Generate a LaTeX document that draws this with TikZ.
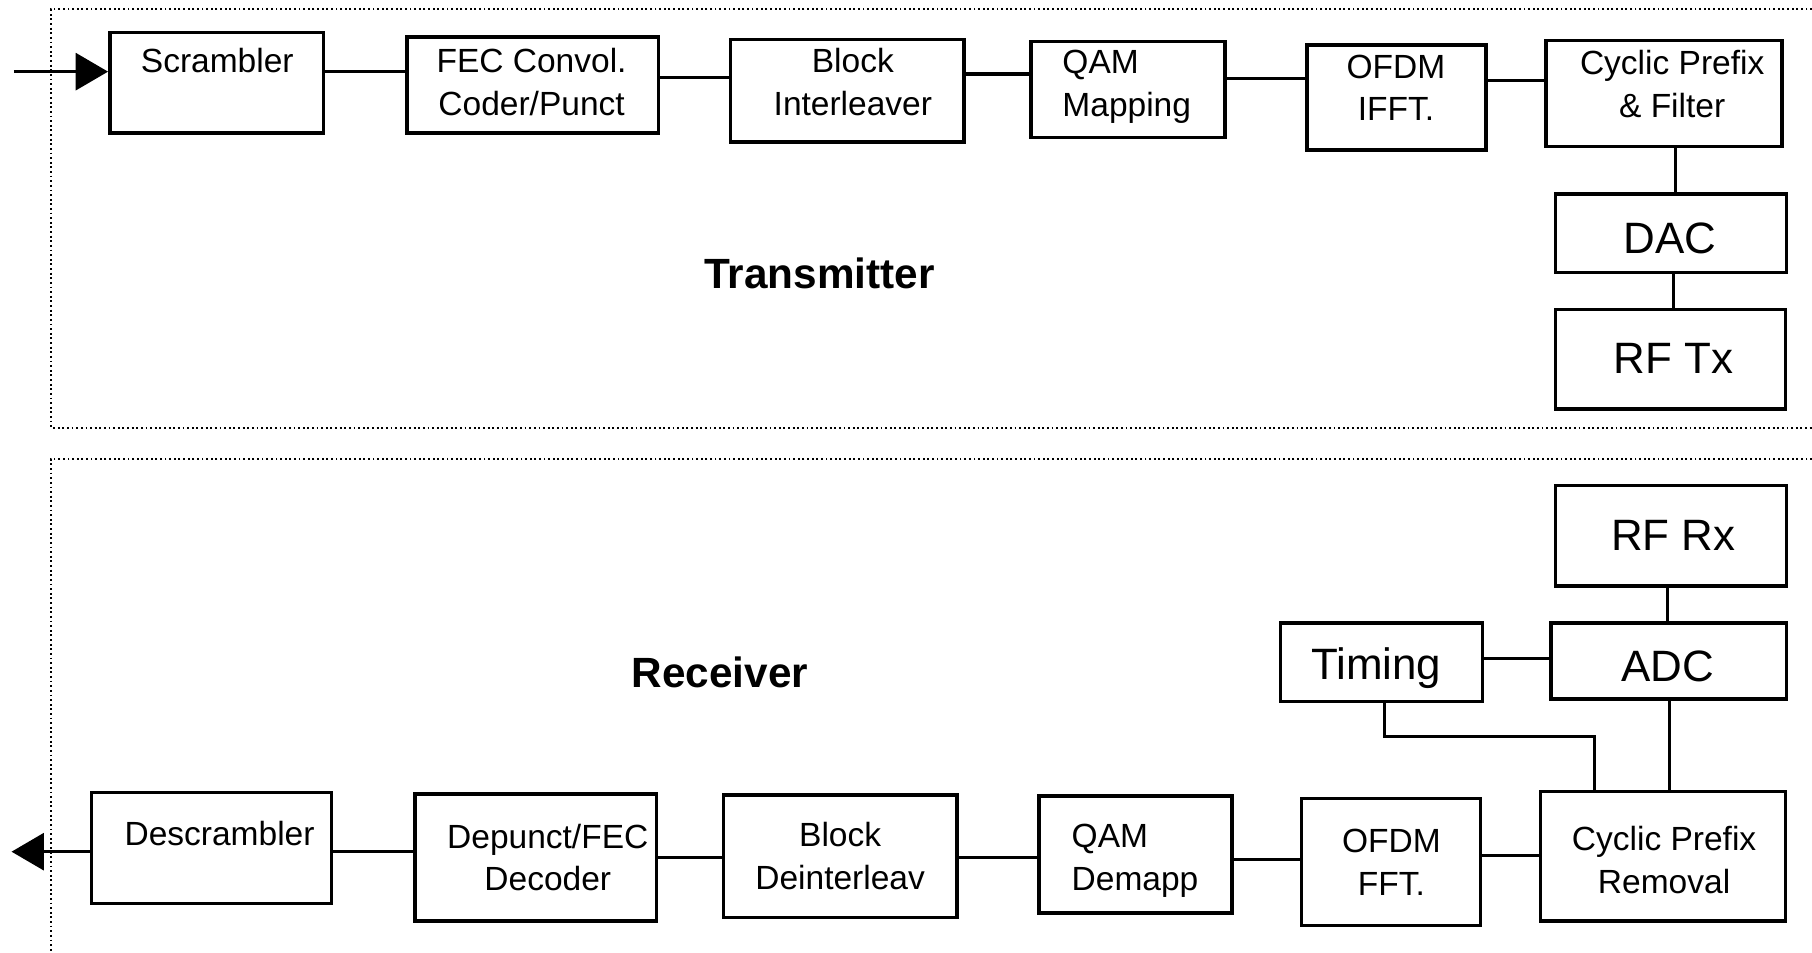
\documentclass[tikz,border=0pt]{standalone}
\usepackage{fontspec}
\setmainfont{Liberation Sans}
\usetikzlibrary{fit,arrows.meta}
\begin{document}
\begin{tikzpicture}[x=0.5pt,y=-0.5pt,
  box/.style={draw,line width=1.5pt,inner sep=0pt},
  txt/.style={inner sep=0pt,align=center,font=\fontsize{14.5pt}{18.5pt}\selectfont},
  txtl/.style={txt,align=left,anchor=west},
  big/.style={inner sep=0pt,font=\fontsize{19pt}{23pt}\selectfont},
  ttl/.style={inner sep=0pt,font=\fontsize{18.3pt}{22pt}\selectfont\bfseries},
  wire/.style={line width=1.35pt},
  frame/.style={line width=0.8pt,dash pattern=on 0.8pt off 1.2pt},
  arr/.style={wire,-{Triangle[length=14pt,width=16pt]}}]
\useasboundingbox (0,0) rectangle (1568,824);
% frames
\draw[frame] (1572,8) -- (44,8) -- (44,370) -- (1572,370);
\draw[frame] (1572,397) -- (44,397) -- (44,828);
% transmitter boxes
\node[box,fit={(95,28) (280,115)}] (scr) {};
\node[box,fit={(352,32) (570,115)}] (fec) {};
\node[box,fit={(632,34) (834,123)}] (bil) {};
\node[box,fit={(892,36) (1060,119)}] (qam) {};
\node[box,fit={(1131,39) (1286,130)}] (ifft) {};
\node[box,fit={(1338,35) (1542,127)}] (cpf) {};
\node[box,fit={(1346,168) (1546,236)}] (dac) {};
\node[box,fit={(1346,268) (1545,354)}] (rftx) {};
% receiver boxes
\node[box,fit={(1346,420) (1546,507)}] (rfrx) {};
\node[box,fit={(1342,539) (1546,605)}] (adc) {};
\node[box,fit={(1108,539) (1283,607)}] (tim) {};
\node[box,fit={(1333,685) (1545,797)}] (cpr) {};
\node[box,fit={(1126,691) (1281,801)}] (fft) {};
\node[box,fit={(899,689) (1066,790)}] (qamd) {};
\node[box,fit={(626,688) (828,794)}] (bdi) {};
\node[box,fit={(359,687) (568,797)}] (dep) {};
\node[box,fit={(79,686) (287,782)}] (desc) {};
% texts
\node[txt] (scrt) at (188,52) {Scrambler};
\node[txt] (fect) at (460,71) {FEC Convol.\\Coder/Punct};
\node[txt] (bilt) at (738,71) {Block\\Interleaver};
\node[txtl] (qamt) at (919,75) {QAM\\Mapping};
\node[txt] (ifftt) at (1208,76) {OFDM\\IFFT.};
\node[txt] (cpft) at (1447,73) {Cyclic Prefix\\\& Filter};
\node[big] (dact) at (1445,206) {DAC};
\node[big] (rftxt) at (1448,310) {RF Tx};
\node[big] (rfrxt) at (1448,463) {RF Rx};
\node[big] (adct) at (1443,577) {ADC};
\node[big] (timt) at (1191,578) {Timing};
\node[txt] (cprt) at (1440,744) {Cyclic Prefix\\Removal};
\node[txt] (fftt) at (1204,746) {OFDM\\FFT.};
\node[txtl] (qamdt) at (927,745) {QAM\\Demapp};
\node[txt] (bdit) at (727,741) {Block\\Deinterleav};
\node[txt] (dept) at (474,742) {Depunct/FEC\\Decoder};
\node[txt] (desct) at (190,721) {Descrambler};
\node[ttl] (tx) at (709,237) {Transmitter};
\node[ttl] (rx) at (623,582) {Receiver};
% connectors transmitter
\coordinate (in) at (12,62);
\coordinate (out) at (10,737);
\draw[arr] (in) -- (scr.west |- in);
\draw[wire] (scr.east |- 0,62) -- (fec.west |- 0,62);
\draw[wire] (fec.east |- 0,67) -- (bil.west |- 0,67);
\draw[wire] (bil.east |- 0,64) -- (qam.west |- 0,64);
\draw[wire] (qam.east |- 0,68) -- (ifft.west |- 0,68);
\draw[wire] (ifft.east |- 0,70) -- (cpf.west |- 0,70);
\draw[wire] (cpf.south -| 1450,0) -- (dac.north -| 1450,0);
\draw[wire] (dac.south -| 1448,0) -- (rftx.north -| 1448,0);
% connectors receiver
\draw[wire] (rfrx.south -| 1443,0) -- (adc.north -| 1443,0);
\draw[wire] (tim.east |- 0,570) -- (adc.west |- 0,570);
\draw[wire] (adc.south -| 1445,0) -- (cpr.north -| 1445,0);
\draw[wire] (tim.south -| 1198,0) -- (1198,637) -- (1380,637) -- (cpr.north -| 1380,0);
\draw[wire] (cpr.west |- 0,740) -- (fft.east |- 0,740);
\draw[wire] (fft.west |- 0,744) -- (qamd.east |- 0,744);
\draw[wire] (qamd.west |- 0,742) -- (bdi.east |- 0,742);
\draw[wire] (bdi.west |- 0,742) -- (dep.east |- 0,742);
\draw[wire] (dep.west |- 0,737) -- (desc.east |- 0,737);
\draw[arr] (desc.west |- out) -- (out);
\end{tikzpicture}
\end{document}
